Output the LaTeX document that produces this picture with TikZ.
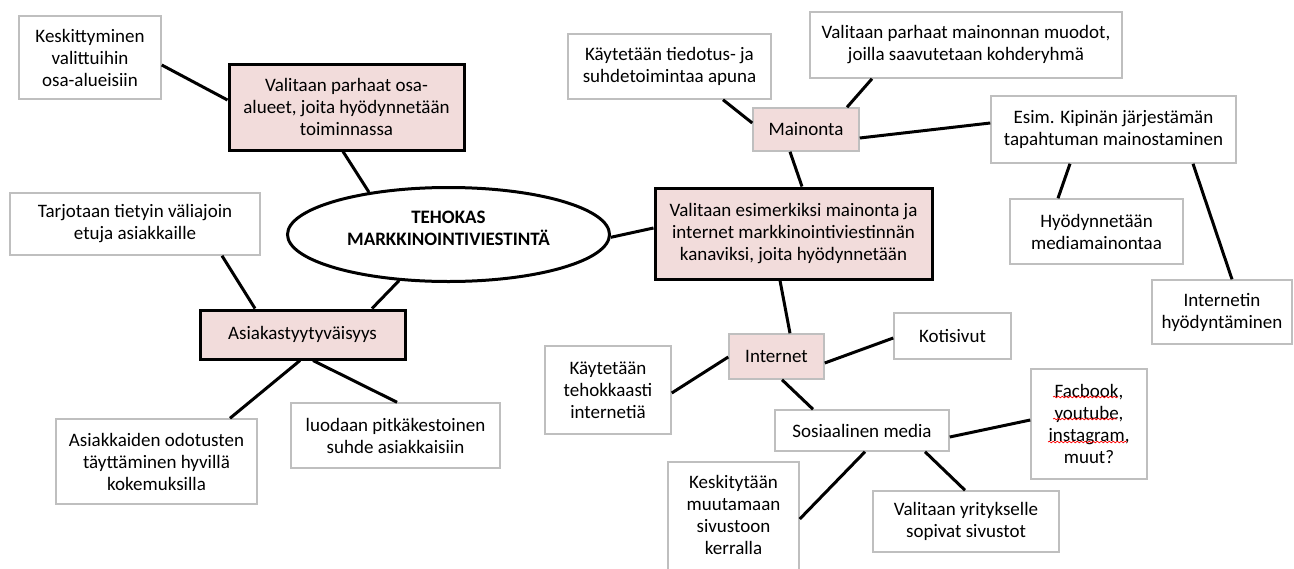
\documentclass[tikz,border=0pt]{standalone}
\usepackage{fontspec}
\setmainfont{Carlito}
\usetikzlibrary{shapes.geometric,decorations.pathmorphing,calc}
\definecolor{pinkfill}{HTML}{F2DCDB}
\definecolor{boxgray}{HTML}{BFBFBF}
\begin{document}
\begin{tikzpicture}[x=1pt,y=-1pt,
  every node/.style={font=\fontsize{19}{22}\selectfont, align=center, inner sep=0pt, text=black},
  plain/.style={draw=boxgray, line width=1.5pt, fill=white},
  keybox/.style={draw=black, line width=3pt, fill=pinkfill},
  subbox/.style={draw=boxgray, line width=1.5pt, fill=pinkfill},
  link/.style={line width=3pt, draw=black},
  wavy/.style={draw=red, line width=0.7pt, decorate, decoration={snake, segment length=4pt, amplitude=0.8pt}}]
\clip (0,0) rectangle (1294,568);
\fill[white] (0,0) rectangle (1294,568);

% left part
\node[plain, minimum width=142pt, minimum height=83pt] (k1) at (90,57.5) {Keskittyminen\\valittuihin\\osa-alueisiin};
\node[keybox, minimum width=235pt, minimum height=86pt] (osa) at (346.5,107) {Valitaan parhaat osa-\\alueet, joita hyödynnetään\\toiminnassa};
\node[ellipse, draw, line width=3pt, fill=white, minimum width=322pt, minimum height=94pt,
  label={[yshift=6pt]center:{\textbf{TEHOKAS}\\\textbf{MARKKINOINTIVIESTINTÄ}}}] (main) at (448.5,234.5) {};
\node[plain, minimum width=250pt, minimum height=62pt] (t1) at (135,224) {Tarjotaan tietyin väliajoin\\etuja asiakkaille};
\node[keybox, minimum width=205pt, minimum height=49pt] (as) at (302.5,334.5) {Asiakastyytyväisyys};
\node[plain, minimum width=201pt, minimum height=85pt] (a2) at (156.5,461.5) {Asiakkaiden odotusten\\täyttäminen hyvillä\\kokemuksilla};
\node[plain, minimum width=209pt, minimum height=65pt] (l1) at (395.5,435.5) {luodaan pitkäkestoinen\\suhde asiakkaisiin};

% right part
\node[plain, minimum width=203pt, minimum height=65pt] (kt) at (669.5,66.5) {Käytetään tiedotus- ja\\suhdetoimintaa apuna};
\node[plain, minimum width=312pt, minimum height=66pt] (vp) at (966,45) {Valitaan parhaat mainonnan muodot,\\joilla saavutetaan kohderyhmä};
\node[subbox, minimum width=106pt, minimum height=43pt] (mai) at (806,129.5) {Mainonta};
\node[keybox, minimum width=277pt, minimum height=91pt] (pr) at (793.5,233.5) {Valitaan esimerkiksi mainonta ja\\internet markkinointiviestinnän\\kanaviksi, joita hyödynnetään};
\node[plain, minimum width=245pt, minimum height=67pt] (es) at (1113.5,129.5) {Esim. Kipinän järjestämän\\tapahtuman mainostaminen};
\node[plain, minimum width=173pt, minimum height=65pt] (hy) at (1096.5,231.5) {Hyödynnetään\\mediamainontaa};
\node[plain, minimum width=140pt, minimum height=64pt] (ih) at (1222,312) {Internetin\\hyödyntäminen};
\node[subbox, minimum width=95pt, minimum height=45pt] (int) at (776.5,356.5) {Internet};
\node[plain, minimum width=117pt, minimum height=46pt] (ko) at (952.5,336) {Kotisivut};
\node[plain, minimum width=126pt, minimum height=88pt] (kte) at (608,390) {Käytetään\\tehokkaasti\\internetiä};
\node[plain, minimum width=174pt, minimum height=41pt] (so) at (862,430.5) {Sosiaalinen media};
\node[plain, minimum width=131pt, minimum height=118pt,
  label={[yshift=6.5pt]center:{Keskitytään\\muutamaan\\sivustoon\\kerralla}}] (ke) at (733.5,521) {};
\node[plain, minimum width=186pt, minimum height=61pt] (vy) at (966,521.5) {Valitaan yritykselle\\sopivat sivustot};
\node[plain, minimum width=116pt, minimum height=110pt] (fb) at (1089,424) {Facbook,\\youtube,\\instagram,\\muut?};

% connectors
\draw[link] ([yshift=-7.5pt]k1.east) -- ([yshift=7pt]osa.west);
\draw[link] ([xshift=-3.5pt]osa.south) -- (main.152);
\draw[link] ([xshift=87pt]t1.south) -- ([xshift=-47.5pt]as.north);
\draw[link] (main.-137) -- ([xshift=69.5pt]as.north);
\draw[link] ([xshift=-2.5pt]as.south) -- ([xshift=73.5pt]a2.north);
\draw[link] ([xshift=10.5pt]as.south) -- ([xshift=1.5pt]l1.north);
\draw[link] (main.-1) -- ([yshift=5.5pt]pr.west);
\draw[link] ([xshift=53.5pt]kt.south) -- ([yshift=6.5pt]mai.west);
\draw[link] ([xshift=-94pt]vp.south) -- ([xshift=41pt]mai.north);
\draw[link] ([xshift=-16pt]mai.south) -- ([xshift=8.5pt]pr.north);
\draw[link] ([yshift=-8.5pt]mai.east) -- ([yshift=6.5pt]es.west);
\draw[link] ([xshift=-43.5pt]es.south) -- ([xshift=-38.5pt]hy.north);
\draw[link] ([xshift=79.5pt]es.south) -- ([xshift=10pt]ih.north);
\draw[link] ([xshift=-13.5pt]pr.south) -- ([xshift=13.5pt]int.north);
\draw[link] ([yshift=-3pt]kte.east) -- ([yshift=-0.5pt]int.west);
\draw[link] ([yshift=-6.5pt]int.east) -- ([yshift=-2pt]ko.west);
\draw[link] ([xshift=5.5pt]int.south) -- ([xshift=-49pt]so.north);
\draw[link] ([yshift=-6.5pt]so.east) -- ([yshift=4pt]fb.west);
\draw[link] ([xshift=3pt]so.south) -- ([yshift=2pt]ke.east);
\draw[link] ([xshift=63pt]so.south) -- ([xshift=-1pt]vy.north);

% spell-check underlines
\draw[wavy] ($(fb.center)+(-36,-27)$) -- ($(fb.center)+(29,-27)$);
\draw[wavy] ($(fb.center)+(-36,-5)$) -- ($(fb.center)+(28,-5)$);
\draw[wavy] ($(fb.center)+(-41,18)$) -- ($(fb.center)+(38,18)$);
\end{tikzpicture}
\end{document}
